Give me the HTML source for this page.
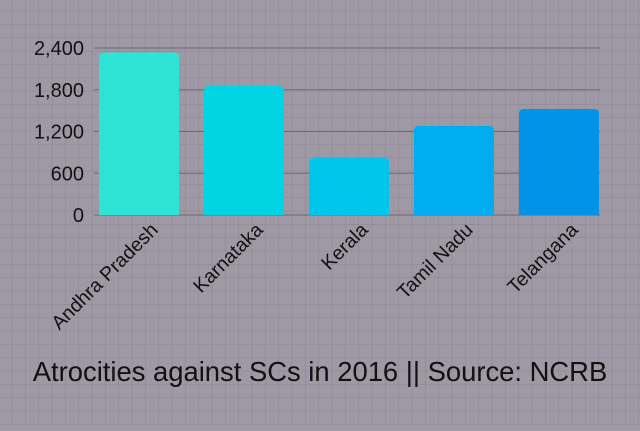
<!DOCTYPE html>
<html><head><meta charset="utf-8"><style>
html,body{margin:0;padding:0;}
body{width:640px;height:426px;overflow:hidden;background:#9e99a4;font-family:"Liberation Sans",sans-serif;}
</style></head><body>
<svg id="chart" width="640" height="426" xmlns="http://www.w3.org/2000/svg">
<defs>
<pattern id="grid" width="13.33" height="13.33" patternUnits="userSpaceOnUse" x="-1" y="-2">
<path d="M13.33 0V13.33M0 13.33H13.33" stroke="#8a8491" stroke-width="1" fill="none"/>
</pattern>
</defs>
<rect width="640" height="426" fill="#9e99a4"/>
<rect width="640" height="426" fill="url(#grid)"/>
<g id="gridlines"></g><g id="yticks"></g><g id="bars"></g><g id="xlabels"></g>
<text x="320" y="381" text-anchor="middle" font-size="27.4" fill="#111">Atrocities against SCs in 2016 || Source: NCRB</text>
</svg>
<script>
const categories=["Andhra Pradesh","Karnataka","Kerala","Tamil Nadu","Telangana"];
const values=[2335,1853,819,1279,1523];
const colors=["#2de3d4","#00d3e2","#00c6ec","#00adf0","#0093e6"];
const yTicks=[0,600,1200,1800,2400];
const yTickLabels=["0","600","1,200","1,800","2,400"];
const NS="http://www.w3.org/2000/svg";
const y0=215,y1=48,vmax=2400,x0=86.5,band=105,bw=80;
const y=v=>y0-(v/vmax)*(y0-y1);
const xc=i=>x0+band*i+band/2;
function mk(t,a,p){const e=document.createElementNS(NS,t);for(const k in a)e.setAttribute(k,a[k]);p.appendChild(e);return e;}
const gl=document.getElementById('gridlines'),yt=document.getElementById('yticks'),bg=document.getElementById('bars'),xl=document.getElementById('xlabels');
yTicks.forEach((v,i)=>{
 const l=mk('line',{x1:94,x2:600,y1:y(v),y2:y(v),stroke:'#6e6874','stroke-width':1},gl);
 
 
 const t=mk('text',{x:84,y:y(v)+7,'text-anchor':'end','font-size':20,fill:'#111'},yt);
 t.textContent=yTickLabels[i];
 
 
});
categories.forEach((c,i)=>{
 const top=y(values[i]);
 const r=mk('path',{d:`M${xc(i)-bw/2} ${y0}V${top+5}Q${xc(i)-bw/2} ${top} ${xc(i)-bw/2+5} ${top}H${xc(i)+bw/2-5}Q${xc(i)+bw/2} ${top} ${xc(i)+bw/2} ${top+5}V${y0}Z`,fill:colors[i]},bg);
 
 
 const lx=xc(i)+20,ly=231;
 const t=mk('text',{x:lx,y:ly,'text-anchor':'end','font-size':19.5,fill:'#111',transform:`rotate(-45 ${lx} ${ly})`},xl);
 t.textContent=c;
 
 
});
</script>
</body></html>
